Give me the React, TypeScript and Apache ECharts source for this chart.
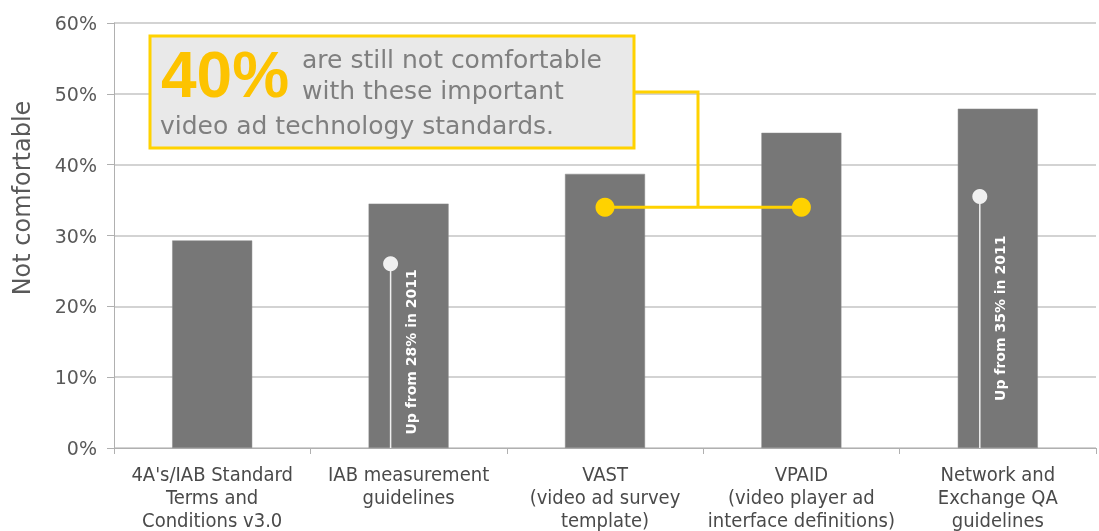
import React, { useEffect, useRef } from "react";
import * as echarts from "echarts";

const categories = [
  "4A's/IAB Standard\nTerms and\nConditions v3.0",
  "IAB measurement\nguidelines",
  "VAST\n(video ad survey\ntemplate)",
  "VPAID\n(video player ad\ninterface definitions)",
  "Network and\nExchange QA\nguidelines",
];
const notComfortable = [29.3, 34.5, 38.7, 44.5, 47.9];
const yTicks = [0, 10, 20, 30, 40, 50, 60];
// 2011 reference markers: [category index, marker value, label]
const prior2011 = [
  { idx: 1, value: 26, label: "Up from 28% in 2011" },
  { idx: 4, value: 35.5, label: "Up from 35% in 2011" },
];
// Yellow connector dots between VAST and VPAID
const connectorIdx = [2, 3];
const connectorValue = 34;
const calloutBig = "40%";
const calloutLines = ["are still not comfortable", "with these important", "video ad technology standards."];

const YELLOW = "#FFD200";
const GRAY_TEXT = "#595959";

export default function App() {
  const ref = useRef<HTMLDivElement>(null);
  useEffect(() => {
    if (!ref.current) return;
    const chart = echarts.init(ref.current, null, { renderer: "svg" });
    const base: any = {
      animation: false,
      grid: { left: 114, right: 3, top: 23, bottom: 82 },
      xAxis: {
        type: "category",
        data: categories,
        boundaryGap: true,
        axisLine: { lineStyle: { color: "#b0b0b0", width: 1 } },
        axisTick: { show: true, length: 6, lineStyle: { color: "#b0b0b0" } },
        axisLabel: {
          interval: 0,
          margin: 14,
          color: "#4a4a4a",
          fontFamily: "'DejaVu Sans Condensed', 'Liberation Sans Narrow', sans-serif",
          fontSize: 20,
          lineHeight: 23,
        },
      },
      yAxis: {
        type: "value",
        min: yTicks[0],
        max: yTicks[yTicks.length - 1],
        interval: 10,
        axisLine: { show: true, lineStyle: { color: "#b0b0b0" } },
        axisTick: { show: true, length: 7, lineStyle: { color: "#b0b0b0" } },
        axisLabel: {
          formatter: "{value}%",
          color: GRAY_TEXT,
          fontFamily: "'DejaVu Sans', sans-serif",
          fontSize: 19,
          margin: 17,
        },
        splitLine: { show: true, lineStyle: { color: "#c4c4c4", width: 1.5 } },
      },
      series: [
        {
          type: "bar",
          data: notComfortable,
          barWidth: 80,
          itemStyle: { color: "#777777", borderColor: "#8a8a8a", borderWidth: 0.5 },
          z: 2,
        },
        {
          type: "scatter",
          data: prior2011.map((p) => [p.idx, p.value]),
          symbol: "circle",
          symbolSize: 15,
          symbolOffset: [-18, 0],
          itemStyle: { color: "#f0f0f0", opacity: 1 },
          z: 6,
        },
        {
          type: "scatter",
          data: connectorIdx.map((i) => [i, connectorValue]),
          symbol: "circle",
          symbolSize: 19,
          itemStyle: { color: YELLOW, opacity: 1 },
          z: 6,
        },
      ],
    };
    chart.setOption(base);

    const px = (i: number, v: number) => chart.convertToPixel({ gridIndex: 0 }, [i, v]) as number[];
    const graphics: any[] = [];
    const zeroY = px(0, 0)[1];
    prior2011.forEach((p) => {
      const [cx, cy] = px(p.idx, p.value);
      const x = cx - 18;
      graphics.push({
        type: "line",
        shape: { x1: x, y1: cy, x2: x, y2: zeroY },
        style: { stroke: "#f0f0f0", lineWidth: 1.5 },
        z: 5,
      });
      graphics.push({
        type: "text",
        x: x + 20,
        y: (cy + 6 + zeroY - 14) / 2,
        rotation: Math.PI / 2,
        style: {
          text: p.label,
          fill: "#ffffff",
          font: "bold 14px 'DejaVu Sans', sans-serif",
          align: "center",
          verticalAlign: "middle",
        },
        z: 5,
      });
    });
    const [ax, ay] = px(connectorIdx[0], connectorValue);
    const [bx] = px(connectorIdx[1], connectorValue);
    const boxLeft = 150, boxTop = 36, boxRight = 634, boxBottom = 148;
    const elbowX = 698, elbowY = 92;
    graphics.push({
      type: "polyline",
      shape: { points: [[boxRight, elbowY], [elbowX, elbowY], [elbowX, ay]] },
      style: { stroke: YELLOW, lineWidth: 3, fill: null },
      z: 5,
    });
    graphics.push({
      type: "line",
      shape: { x1: ax, y1: ay, x2: bx, y2: ay },
      style: { stroke: YELLOW, lineWidth: 3 },
      z: 5,
    });
    graphics.push({
      type: "rect",
      shape: { x: boxLeft, y: boxTop, width: boxRight - boxLeft, height: boxBottom - boxTop },
      style: { fill: "#e9e9e9", stroke: YELLOW, lineWidth: 3 },
      z: 7,
    });
    graphics.push({
      type: "text",
      x: 161,
      y: 74.8,
      style: {
        text: calloutBig,
        fill: "#FDC300",
        font: "bold 64px 'Liberation Sans', Arial, sans-serif",
        verticalAlign: "middle",
      },
      z: 8,
    });
    const lineX = [302, 302, 160];
    const lineY = [59.4, 90.4, 125.4];
    calloutLines.forEach((t, i) => {
      graphics.push({
        type: "text",
        x: lineX[i],
        y: lineY[i],
        style: {
          text: t,
          fill: "#7f7f7f",
          font: "25px 'DejaVu Sans', sans-serif",
          verticalAlign: "middle",
        },
        z: 8,
      });
    });
    graphics.push({
      type: "text",
      x: 22,
      y: 198,
      rotation: Math.PI / 2,
      style: {
        text: "Not comfortable",
        fill: GRAY_TEXT,
        font: "24px 'DejaVu Sans', sans-serif",
        align: "center",
        verticalAlign: "middle",
      },
    });
    chart.setOption({ graphic: graphics });
    return () => chart.dispose();
  }, []);
  return (
    <div
      ref={ref}
      style={{ position: "fixed", left: 0, top: 0, width: 1099, height: 531 }}
    />
  );
}
